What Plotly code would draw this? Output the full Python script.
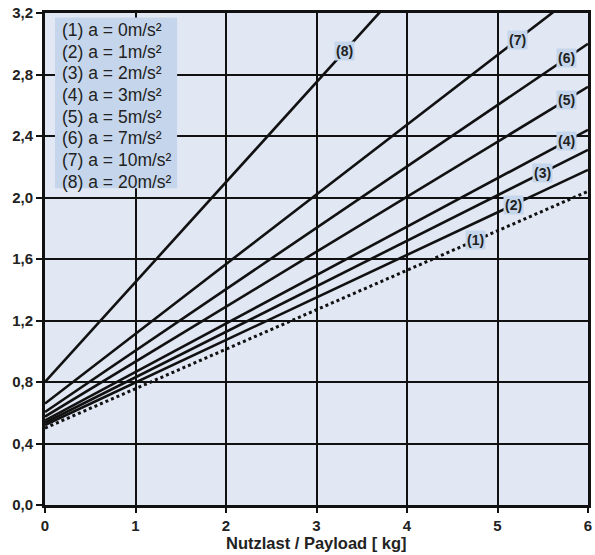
import plotly.graph_objects as go
import numpy as np

# Data
payload_kg = [0, 6]
series_names = ["(1)", "(2)", "(3)", "(4)", "(5)", "(6)", "(7)", "(8)"]
legend_texts = ["(1) a = 0m/s²", "(2) a = 1m/s²", "(3) a = 2m/s²", "(4) a = 3m/s²",
                "(5) a = 5m/s²", "(6) a = 7m/s²", "(7) a = 10m/s²", "(8) a = 20m/s²"]
y_at_0 = [0.50, 0.52, 0.535, 0.55, 0.575, 0.605, 0.66, 0.80]
y_at_6 = [2.04, 2.18, 2.31, 2.44, 2.72, 3.00, 3.38, 4.70]
label_x = [4.76, 5.18, 5.50, 5.76, 5.76, 5.76, 5.22, 3.31]
x_ticks = [0, 1, 2, 3, 4, 5, 6]
y_ticks = [0.0, 0.4, 0.8, 1.2, 1.6, 2.0, 2.4, 2.8, 3.2]
y_tick_labels = ["0,0", "0,4", "0,8", "1,2", "1,6", "2,0", "2,4", "2,8", "3,2"]

FONT = "Liberation Sans, Arial, sans-serif"
LABEL_BG = "#c5d6ec"
TXT = "#222222"

fig = go.Figure()
for i, name in enumerate(series_names):
    fig.add_trace(go.Scatter(
        x=payload_kg, y=[y_at_0[i], y_at_6[i]], mode="lines", name=name,
        line=dict(color="#111111", width=3 if i == 0 else 2.6,
                  dash="dot" if i == 0 else "solid"),
        showlegend=False, hoverinfo="skip"))

annotations = []
for i, name in enumerate(series_names):
    lx = label_x[i]
    ly = float(np.interp(lx, payload_kg, [y_at_0[i], y_at_6[i]]))
    annotations.append(dict(
        x=lx, y=ly, xref="x", yref="y", text="<b>" + name + "</b>", showarrow=False,
        font=dict(family=FONT, size=14, color=TXT), bgcolor=LABEL_BG, borderpad=1))

# legend box
shapes = [dict(type="rect", xref="x", yref="y", x0=0.11, x1=1.46, y0=2.06, y1=3.17,
               fillcolor=LABEL_BG, line=dict(width=0), layer="above")]
for i, t in enumerate(legend_texts):
    annotations.append(dict(
        x=0.165, y=3.09 - i * 0.141, xref="x", yref="y", text=t, showarrow=False,
        xanchor="left", yanchor="middle",
        font=dict(family=FONT, size=17.5, color=TXT)))

# x-axis title
annotations.append(dict(
    x=0.5, y=0, xref="paper", yref="paper", yshift=-38, yanchor="middle",
    text="<b>Nutzlast / Payload [ kg]</b>", showarrow=False,
    font=dict(family=FONT, size=16.5, color=TXT)))

fig.update_layout(
    width=595, height=555,
    margin=dict(l=45, r=7, t=13, b=50, autoexpand=False),
    paper_bgcolor="white", plot_bgcolor="#e1e7f3",
    font=dict(family=FONT, color=TXT),
    shapes=shapes, annotations=annotations,
)
fig.update_xaxes(
    range=[0, 6], tickvals=x_ticks, ticktext=[str(v) for v in x_ticks],
    showgrid=True, gridcolor="#111111", gridwidth=2,
    showline=True, linecolor="#111111", linewidth=3, mirror=True,
    ticks="outside", ticklen=5, tickwidth=2, tickcolor="#111111",
    tickfont=dict(family=FONT, size=15, color=TXT, weight="bold"),
    ticklabeloverflow="allow",
    automargin=False, zeroline=False, fixedrange=True)
fig.update_yaxes(
    range=[0, 3.2], tickvals=y_ticks, ticktext=y_tick_labels,
    showgrid=True, gridcolor="#111111", gridwidth=2,
    showline=True, linecolor="#111111", linewidth=3, mirror=True,
    ticks="outside", ticklen=6, tickwidth=2, tickcolor="#111111",
    tickfont=dict(family=FONT, size=15, color=TXT, weight="bold"),
    ticklabeloverflow="allow",
    automargin=False, zeroline=False, fixedrange=True)

# remove the browser's default 8px body margin so the figure fills the window
fig.write_html("out.html", config={"displayModeBar": False, "staticPlot": True},
               post_script="document.body.style.margin='0';document.body.style.overflow='hidden';")
